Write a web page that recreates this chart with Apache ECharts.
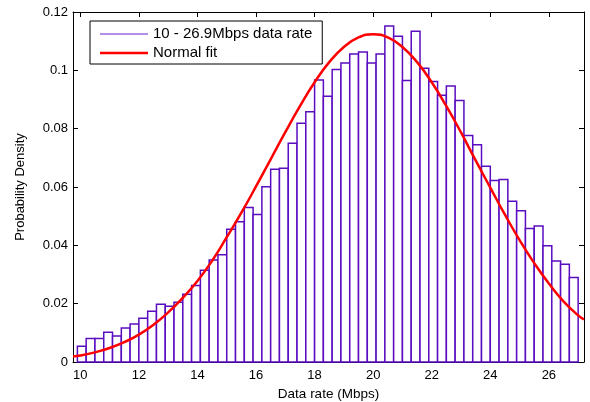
<!DOCTYPE html>
<html>
<head>
<meta charset="utf-8">
<script src="https://cdn.jsdelivr.net/npm/echarts@6/dist/echarts.min.js"></script>
<style>
  html, body { margin: 0; padding: 0; background: #fff; }
  #main { width: 590px; height: 402px; }
</style>
</head>
<body>
<div id="main"></div>
<script>
// histogram bins (centres, Mbps) and probability density
const binCenters = [10.05, 10.35, 10.65, 10.95, 11.25, 11.55, 11.85, 12.15, 12.45, 12.75,
  13.05, 13.35, 13.65, 13.95, 14.25, 14.55, 14.85, 15.15, 15.45, 15.75,
  16.05, 16.35, 16.65, 16.95, 17.25, 17.55, 17.85, 18.15, 18.45, 18.75,
  19.05, 19.35, 19.65, 19.95, 20.25, 20.55, 20.85, 21.15, 21.45, 21.75,
  22.05, 22.35, 22.65, 22.95, 23.25, 23.55, 23.85, 24.15, 24.45, 24.75,
  25.05, 25.35, 25.65, 25.95, 26.25, 26.55, 26.85];
const binDensity = [0.0054, 0.0081, 0.0081, 0.0102, 0.0089, 0.0117, 0.0130, 0.0150, 0.0174, 0.0198,
  0.0191, 0.0205, 0.0232, 0.0262, 0.0315, 0.0350, 0.0368, 0.0455, 0.0481, 0.0530,
  0.0506, 0.0601, 0.0661, 0.0664, 0.0750, 0.0819, 0.0858, 0.0967, 0.0911, 0.1003,
  0.1025, 0.1056, 0.1063, 0.1025, 0.1056, 0.1152, 0.1117, 0.0965, 0.1134, 0.1007,
  0.0962, 0.0915, 0.0946, 0.0897, 0.0777, 0.0745, 0.0671, 0.0622, 0.0626, 0.0551,
  0.0519, 0.0458, 0.0466, 0.0399, 0.0346, 0.0335, 0.0290];
const binWidth = 0.3;

// normal fit curve
const fitX = [9.75, 10, 10.5, 11, 11.5, 12, 12.5, 13, 13.5, 14, 14.5, 15, 15.5, 16, 16.5, 17, 17.5, 18, 18.5,
  19, 19.5, 20, 20.5, 21, 21.5, 22, 22.5, 23, 23.5, 24, 24.5, 25, 25.5, 26, 26.5, 27, 27.2];
const fitY = [0.0019, 0.0022, 0.0033, 0.0048, 0.0068, 0.0094, 0.0128, 0.0170, 0.0220, 0.0278, 0.0347, 0.0428,
  0.0512, 0.0602, 0.0695, 0.0788, 0.0877, 0.0959, 0.1028, 0.1080, 0.1113, 0.1124, 0.1113, 0.1080,
  0.1028, 0.0959, 0.0877, 0.0787, 0.0691, 0.0598, 0.0505, 0.0418, 0.0339, 0.0269, 0.0208, 0.0160, 0.0146];

const xTicks = [10, 12, 14, 16, 18, 20, 22, 24, 26];
const histName = "10 - 26.9Mbps data rate";
const fitName = "Normal fit";

const chart = echarts.init(document.getElementById("main"));

const barData = binCenters.map((c, i) => [c, binDensity[i]]);
const fitData = fitX.map((x, i) => [x, fitY[i]]);

const font = "Liberation Sans, Arial, sans-serif";
const xMin = 9.75, xMax = 27.2;

const option = {
  animation: false,
  grid: { left: 73, right: 6, top: 12, bottom: 40, outerBoundsMode: "none" },
  legend: {
    left: 90,
    top: 21,
    orient: "vertical",
    // line swatches: the first segment only stretches the icon box to full height
    data: [
      { name: histName, icon: "path://M0,0 L0,14 M0,6.5 L48,6.5 L48,7.5 L0,7.5 Z", itemStyle: { color: "#6a1fd0" } },
      { name: fitName, icon: "path://M0,0 L0,14 M0,5.75 L48,5.75 L48,8.25 L0,8.25 Z", itemStyle: { color: "#ff0000" } },
    ],
    itemWidth: 48,
    itemHeight: 14,
    itemGap: 3,
    padding: [5, 10, 3, 10],
    backgroundColor: "#fff",
    borderColor: "#000",
    borderWidth: 1,
    borderRadius: 0,
    textStyle: { fontFamily: font, fontSize: 15, color: "#000", lineHeight: 16 },
  },
  xAxis: [
    {
      type: "value",
      min: xMin,
      max: xMax,
      name: "Data rate (Mbps)",
      nameLocation: "middle",
      nameGap: 25,
      nameTextStyle: { fontFamily: font, fontSize: 13.5, color: "#000" },
      axisLine: { show: true, onZero: false, lineStyle: { color: "#000", width: 1 } },
      axisTick: { inside: true, length: 5, customValues: xTicks, lineStyle: { color: "#000" } },
      axisLabel: { customValues: xTicks, margin: 7, fontFamily: font, fontSize: 13, color: "#000" },
      splitLine: { show: false },
    },
    {
      type: "value",
      position: "top",
      min: xMin,
      max: xMax,
      axisLine: { show: true, onZero: false, lineStyle: { color: "#000", width: 1 } },
      axisTick: { inside: true, length: 5, customValues: xTicks, lineStyle: { color: "#000" } },
      axisLabel: { show: false },
      splitLine: { show: false },
    },
  ],
  yAxis: [
    {
      type: "value",
      min: 0,
      max: 0.12,
      interval: 0.02,
      name: "Probability Density",
      nameLocation: "middle",
      nameGap: 46,
      nameTextStyle: { fontFamily: font, fontSize: 13, color: "#000" },
      axisLine: { show: true, onZero: false, lineStyle: { color: "#000", width: 1 } },
      axisTick: { show: true, inside: true, length: 5, lineStyle: { color: "#000" } },
      axisLabel: { margin: 5, fontFamily: font, fontSize: 13, color: "#000" },
      splitLine: { show: false },
    },
    {
      type: "value",
      position: "right",
      min: 0,
      max: 0.12,
      interval: 0.02,
      axisLine: { show: true, onZero: false, lineStyle: { color: "#000", width: 1 } },
      axisTick: { show: true, inside: true, length: 5, lineStyle: { color: "#000" } },
      axisLabel: { show: false },
      splitLine: { show: false },
    },
  ],
  series: [
    {
      name: histName,
      type: "custom",
      data: barData,
      itemStyle: { color: "#6a1fd0" },
      renderItem: function (params, api) {
        const c = api.value(0);
        const h = api.value(1);
        const p0 = api.coord([c - binWidth / 2, h]);
        const p1 = api.coord([c + binWidth / 2, 0]);
        return {
          type: "rect",
          shape: { x: p0[0], y: p0[1], width: p1[0] - p0[0], height: p1[1] - p0[1] },
          style: { fill: "#fff", stroke: "#5a0cc0", lineWidth: 1.5 },
        };
      },
      z: 2,
    },
    {
      name: fitName,
      type: "line",
      data: fitData,
      smooth: true,
      symbol: "none",
      lineStyle: { color: "#ff0000", width: 2.5 },
      itemStyle: { color: "#ff0000" },
      z: 5,
    },
  ],
};

chart.setOption(option);
</script>
</body>
</html>
